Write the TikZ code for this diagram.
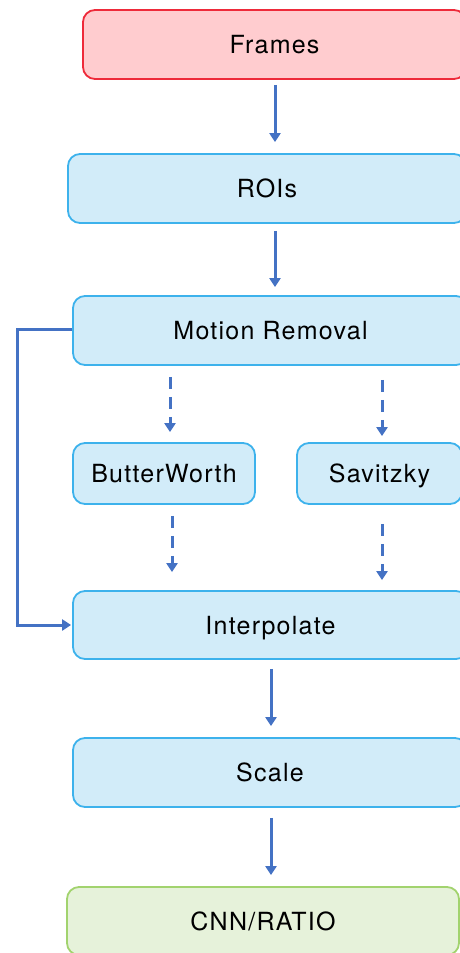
\documentclass[tikz,border=0pt]{standalone}
\usepackage{fontspec}
\setmainfont{TeX Gyre Heros}[LetterSpace=5]
\usetikzlibrary{arrows.meta}
\definecolor{pinkfill}{HTML}{FFCCCF}
\definecolor{redline}{HTML}{EE2A3A}
\definecolor{bluefill}{HTML}{D2ECF9}
\definecolor{blueline}{HTML}{3DB2EC}
\definecolor{greenfill}{HTML}{E6F2DA}
\definecolor{greenline}{HTML}{A2D36E}
\definecolor{arrowblue}{HTML}{4472C4}
\tikzset{
  box/.style={draw=blueline, fill=bluefill, line width=1.8pt, rounded corners=12pt,
    inner sep=0pt, font=\fontsize{25}{29}\selectfont, text=black,
    text height=18pt, text depth=0pt},
  redbox/.style={box, draw=redline, fill=pinkfill},
  greenbox/.style={box, draw=greenline, fill=greenfill},
  arr/.style={draw=arrowblue, line width=3pt, -{Triangle[width=11pt,length=9pt]}},
  darr/.style={arr, dash pattern=on 12pt off 8pt}
}
\begin{document}
\begin{tikzpicture}[x=1pt,y=-1pt]
\useasboundingbox (0,0) rectangle (460,953);
\node[redbox, minimum width=383pt, minimum height=69pt] (frames) at (274.5,44.5) {Frames};
\node[box, minimum width=398pt, minimum height=69pt] (rois) at (267,188.5) {ROIs};
\node[box, minimum width=395pt, minimum height=69pt] (motion) at (270.5,330.5) {Motion Removal};
\node[box, minimum width=182pt, minimum height=61pt] (butter) at (164,473.5) {ButterWorth};
\node[box, minimum width=165pt, minimum height=61pt] (savitzky) at (379.5,473.5) {Savitzky};
\node[box, minimum width=395pt, minimum height=68pt] (interp) at (270.5,625) {Interpolate};
\node[box, minimum width=394pt, minimum height=69pt] (scale) at (270,772.5) {Scale};
\node[greenbox, minimum width=392pt, minimum height=68pt] (cnn) at (263,921) {CNN/RATIO};

\draw[arr, shorten <=5pt, shorten >=11pt] (frames.south -| 275,0) -- (rois.north -| 275,0);
\draw[arr, shorten <=7pt, shorten >=8pt] (rois.south -| 275,0) -- (motion.north -| 275,0);
\draw[darr, shorten <=11pt, shorten >=10pt] (motion.south -| 170,0) -- (butter.north -| 170,0);
\draw[darr, shorten <=14pt, shorten >=6pt] (motion.south -| 382,0) -- (savitzky.north -| 382,0);
\draw[darr, shorten <=11pt, shorten >=18pt] (butter.south -| 172,0) -- (interp.north -| 172,0);
\draw[darr, shorten <=19pt, shorten >=10pt] (savitzky.south -| 382,0) -- (interp.north -| 382,0);
\draw[arr, shorten <=9pt, shorten >=11pt] (interp.south -| 271,0) -- (scale.north -| 271,0);
\draw[arr, shorten <=10pt, shorten >=11pt] (scale.south -| 271,0) -- (cnn.north -| 271,0);
\coordinate (bend) at (17,329);
\draw[arr, shorten >=1pt] (motion.west |- bend) -- (bend) |- (interp.west);
\end{tikzpicture}
\end{document}
